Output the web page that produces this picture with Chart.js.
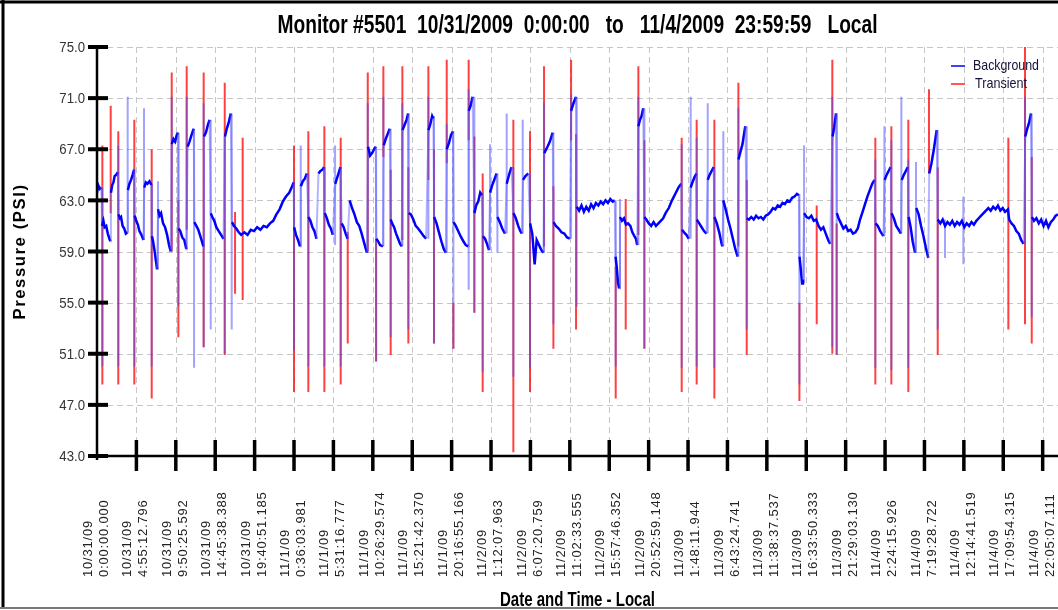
<!DOCTYPE html>
<html>
<head>
<meta charset="utf-8">
<title>Monitor #5501</title>
<script src="https://cdn.jsdelivr.net/npm/chart.js@4/dist/chart.umd.min.js"></script>
<style>
  html, body { margin: 0; padding: 0; background: #fff; }
  canvas { display: block; }
</style>
</head>
<body>
<canvas id="myChart" width="1058" height="610"></canvas>
<script>
// Data (x = hours since 10/31/2009 0:00:00, y = PSI)
let titleText = 'Monitor #5501  10/31/2009  0:00:00   to   11/4/2009  23:59:59   Local';

let yTicks = [43, 47, 51, 55, 59, 63, 67, 71, 75];

let tickHours = [0, 4.920, 9.840, 14.761, 19.681, 24.601, 29.521, 34.442, 39.362, 44.282,
  49.202, 54.122, 59.043, 63.963, 68.883, 73.803, 78.724, 83.644, 88.564, 93.484,
  98.404, 103.325, 108.245, 113.165, 118.085];
let tickDates = ['10/31/09','10/31/09','10/31/09','10/31/09','10/31/09',
  '11/1/09','11/1/09','11/1/09','11/1/09','11/1/09',
  '11/2/09','11/2/09','11/2/09','11/2/09','11/2/09',
  '11/3/09','11/3/09','11/3/09','11/3/09','11/3/09',
  '11/4/09','11/4/09','11/4/09','11/4/09','11/4/09'];
let tickTimes = ['0:00:00.000','4:55:12.796','9:50:25.592','14:45:38.388','19:40:51.185',
  '0:36:03.981','5:31:16.777','10:26:29.574','15:21:42.370','20:16:55.166',
  '1:12:07.963','6:07:20.759','11:02:33.555','15:57:46.352','20:52:59.148',
  '1:48:11.944','6:43:24.741','11:38:37.537','16:33:50.333','21:29:03.130',
  '2:24:15.926','7:19:28.722','12:14:41.519','17:09:54.315','22:05:07.111'];

// background trace
let bgHours = [
  0.00,0.15,0.35,0.55,0.62,0.80,0.95,1.15,1.35,1.55,1.68,1.74,1.90,2.05,2.20,2.40,2.60,2.68,2.85,3.00,
  3.20,3.40,3.60,3.80,3.86,4.05,4.25,4.45,4.62,4.70,4.90,5.10,5.30,5.55,5.80,5.90,6.10,6.30,6.55,6.80,
  6.86,7.00,7.20,7.35,7.50,7.62,7.80,8.00,8.25,8.50,8.75,9.00,9.20,9.33,9.55,9.75,9.95,10.12,10.18,10.40,
  10.65,10.90,11.15,11.32,11.55,11.75,11.95,12.08,12.15,12.40,12.65,12.90,13.10,13.28,13.36,13.60,13.85,14.05,14.20,14.40,
  14.65,14.90,15.20,15.50,15.80,15.98,16.20,16.45,16.70,16.85,17.10,17.40,17.70,18.00,18.40,18.80,19.20,19.60,20.00,20.40,
  20.80,21.20,21.60,22.00,22.40,22.80,23.20,23.60,24.00,24.30,24.55,24.62,24.85,25.10,25.35,25.45,25.70,25.95,26.20,26.40,
  26.65,26.90,27.15,27.40,27.65,27.90,28.15,28.35,28.45,28.70,28.95,29.20,29.45,29.75,30.00,30.20,30.40,30.55,30.80,31.05,
  31.30,31.55,31.85,32.15,32.45,32.75,33.05,33.35,33.70,33.85,34.10,34.35,34.60,34.80,34.88,35.10,35.35,35.70,35.80,36.05,
  36.30,36.55,36.67,36.85,37.10,37.35,37.60,37.85,38.05,38.15,38.40,38.65,38.85,38.92,39.20,39.50,39.80,40.10,40.45,40.80,
  41.10,41.38,41.60,41.85,42.00,42.10,42.40,42.70,43.00,43.30,43.55,43.67,43.95,44.20,44.45,44.52,44.80,45.10,45.40,45.75,
  46.05,46.35,46.42,46.65,46.90,47.12,47.35,47.60,47.85,48.05,48.20,48.45,48.70,48.95,49.08,49.35,49.60,49.90,50.00,50.30,
  50.60,50.95,51.16,51.45,51.75,52.00,52.30,52.60,52.85,53.05,53.20,53.50,53.85,54.08,54.35,54.65,54.90,55.20,55.50,55.75,
  55.85,56.25,56.55,56.90,57.00,57.30,57.65,58.00,58.35,58.70,59.05,59.20,59.50,59.80,59.90,60.20,60.50,60.80,61.10,61.40,
  61.70,62.00,62.30,62.60,62.90,63.20,63.50,63.80,64.10,64.40,64.65,64.75,64.90,65.05,65.20,65.30,65.55,65.80,66.05,66.30,
  66.60,66.85,67.10,67.30,67.45,67.60,67.80,68.00,68.20,68.35,68.60,68.90,69.20,69.50,69.80,70.10,70.40,70.70,71.00,71.40,
  71.80,72.20,72.60,72.95,73.05,73.30,73.60,73.90,74.13,74.35,74.60,74.85,74.90,75.20,75.50,75.80,76.10,76.26,76.50,76.75,
  77.00,77.10,77.40,77.70,78.00,78.10,78.21,78.50,78.80,79.10,79.40,79.70,80.00,80.10,80.35,80.60,80.95,81.13,81.40,81.70,
  82.00,82.30,82.60,82.90,83.20,83.50,83.80,84.10,84.40,84.70,85.00,85.30,85.60,85.90,86.20,86.50,86.80,87.10,87.40,87.65,
  87.72,87.90,88.05,88.15,88.30,88.60,88.90,89.20,89.50,89.80,90.10,90.40,90.70,91.00,91.30,91.55,91.85,92.05,92.28,92.38,
  92.60,92.90,93.20,93.50,93.80,94.10,94.40,94.70,95.00,95.28,95.60,95.90,96.20,96.50,96.80,97.10,97.22,97.50,97.80,98.20,
  98.35,98.60,98.85,99.10,99.22,99.50,99.80,100.10,100.38,100.48,100.75,101.00,101.25,101.35,101.60,101.85,102.15,102.30,102.60,102.90,
  103.20,103.50,103.80,103.92,104.20,104.50,104.85,104.98,105.30,105.60,105.90,106.20,106.50,106.80,107.10,107.40,107.70,108.00,108.30,108.60,
  108.90,109.20,109.50,109.80,110.10,110.40,110.70,111.00,111.30,111.60,111.90,112.20,112.50,112.80,113.10,113.40,113.75,113.90,114.20,114.50,
  114.80,115.10,115.40,115.70,115.92,116.15,116.40,116.62,116.75,117.00,117.30,117.60,117.90,118.20,118.50,118.80,119.10,119.40,119.70,120.00
];
let bgPsi = [
  63.6,64.2,63.9,64.0,61.0,61.4,60.9,61.0,60.4,60.0,59.8,63.6,64.2,64.4,64.9,65.0,65.2,61.9,61.6,61.7,
  61.0,60.8,60.4,60.5,63.8,64.3,64.6,65.0,65.4,61.8,61.4,61.1,60.6,60.3,59.9,64.0,64.4,64.3,64.5,64.2,
  60.2,59.8,59.0,58.3,57.6,62.3,61.8,62.0,61.2,60.9,60.3,59.5,59.0,67.4,67.8,67.6,68.1,68.3,60.8,60.6,
  60.1,59.9,59.2,67.2,67.6,68.0,68.4,68.6,61.3,61.0,60.7,60.2,59.8,59.4,68.0,68.3,68.9,69.3,62.0,61.7,
  61.4,60.9,60.6,60.3,60.0,68.0,68.6,69.1,69.8,61.3,61.0,60.8,60.5,60.3,60.5,60.3,60.7,60.6,60.9,60.7,
  61.0,60.9,61.2,61.4,61.9,62.3,62.9,63.3,63.6,64.0,64.4,60.9,60.3,59.9,59.4,64.1,64.5,64.7,65.1,61.7,
  61.4,60.9,60.6,60.0,65.1,65.3,65.4,65.6,62.0,61.6,61.1,60.8,60.3,64.3,64.8,65.2,65.6,61.2,60.9,60.4,
  60.0,63.0,62.4,61.9,61.3,61.0,60.4,59.7,58.9,67.2,66.5,66.7,67.0,67.2,60.0,59.8,59.5,59.4,67.3,67.8,
  68.2,68.6,61.5,61.2,60.9,60.4,60.0,59.6,59.4,68.5,68.9,69.3,69.8,62.0,61.9,61.5,61.0,60.8,60.5,60.2,
  60.0,68.5,68.9,69.6,69.4,61.7,61.2,60.5,59.8,59.2,58.9,67.0,67.5,68.1,68.4,61.3,61.0,60.6,60.2,59.8,
  59.5,59.4,70.0,70.4,71.1,62.0,62.6,62.9,63.6,63.4,60.2,60.0,59.6,59.1,63.6,64.2,64.6,65.1,61.7,61.3,
  60.8,60.4,64.3,65.0,65.6,62.0,61.6,61.0,60.6,60.4,64.6,64.9,65.1,61.2,60.4,58.0,59.9,59.5,59.1,58.9,
  66.7,67.2,67.6,68.3,61.3,61.0,60.8,60.5,60.4,60.1,60.0,70.0,70.6,71.1,62.5,62.2,62.6,62.1,62.5,62.2,
  62.7,62.4,62.8,62.6,62.9,62.7,63.0,62.8,63.1,62.9,63.0,58.6,57.8,56.6,56.1,61.7,61.4,61.6,61.1,61.2,
  61.0,60.5,60.2,60.0,59.5,68.8,69.3,69.6,70.2,61.7,61.5,61.2,61.0,61.3,61.0,61.2,61.4,61.6,62.0,62.4,
  63.0,63.5,64.0,64.3,60.7,60.5,60.3,60.0,64.0,64.4,64.8,65.1,61.5,61.2,60.9,60.6,60.4,64.6,65.0,65.3,
  65.6,61.7,61.2,60.5,59.6,59.4,63.0,62.3,61.5,60.8,60.0,59.2,58.6,66.2,66.8,67.4,68.8,61.6,61.5,61.7,
  61.5,61.8,61.6,61.7,61.5,61.8,61.9,62.1,62.4,62.3,62.6,62.5,62.8,62.7,63.0,62.9,63.2,63.3,63.5,63.4,
  58.6,57.5,56.5,56.8,62.0,61.7,61.6,61.8,61.4,61.5,61.0,60.7,60.9,60.4,59.9,59.6,68.0,68.7,69.8,62.0,
  61.6,61.2,60.8,61.0,60.6,60.7,60.4,60.5,60.8,61.5,62.1,62.7,63.3,63.8,64.3,64.6,61.2,61.0,60.6,60.2,
  64.6,65.0,65.3,65.6,62.0,61.6,61.0,60.7,60.4,64.6,65.0,65.3,65.6,61.7,60.9,59.8,58.9,62.4,61.9,61.0,
  60.2,59.3,58.5,65.1,65.9,67.0,68.5,61.5,61.2,61.5,61.0,61.3,61.1,61.4,61.0,61.3,61.1,61.4,60.9,61.2,
  61.0,61.3,61.1,61.4,61.6,61.8,62.0,62.2,62.4,62.2,62.5,62.3,62.6,62.2,62.4,62.1,62.3,61.5,61.2,61.0,
  60.6,60.4,59.9,59.6,68.0,68.6,69.1,69.8,61.7,61.4,61.6,61.2,61.5,61.0,61.4,60.9,61.3,61.5,61.8,61.9
];

// background spikes (vertical blue strokes)
let bgSpikeHours = [0.67,2.66,3.83,4.66,5.87,6.83,7.62,9.33,10.16,11.20,12.12,13.32,14.20,15.95,16.82,
  24.60,25.44,26.39,28.39,29.73,30.43,33.81,34.85,35.76,36.67,38.13,38.88,41.38,42.08,43.67,44.50,
  46.41,47.12,48.16,49.08,50.00,51.16,51.99,53.16,54.07,55.82,56.99,59.20,59.90,64.77,65.31,67.60,
  68.35,73.01,74.13,74.88,76.26,77.09,78.21,80.09,81.13,87.71,88.29,91.82,92.36,97.19,98.32,99.19,
  100.44,101.31,102.27,104.98,105.89,108.18,115.88,116.72];
let bgSpikeLow = [50.0,50.0,60.5,50.0,59.9,50.0,57.6,59.0,54.7,59.1,49.9,51.5,52.9,51.0,52.9,
  51.3,59.4,50.0,50.0,59.5,50.0,58.9,50.4,59.4,52.3,59.4,52.9,60.0,51.8,58.9,51.4,
  56.0,54.2,49.6,59.1,58.9,60.4,49.2,60.4,49.9,58.9,53.3,60.0,54.7,50.0,56.1,59.5,
  51.4,49.9,60.0,50.0,60.4,49.9,59.4,58.6,52.9,48.6,56.5,51.5,50.9,49.9,60.2,49.7,
  60.4,49.9,58.9,52.9,58.5,58.0,59.6,53.9];
let bgSpikeHigh = [64.0,67.3,71.1,65.5,70.2,64.3,64.5,71.1,68.3,71.1,68.6,70.6,69.3,68.0,69.8,
  64.4,67.3,65.1,65.6,67.3,65.6,70.6,67.2,71.1,68.6,70.6,69.8,71.1,69.6,69.0,68.4,
  71.7,71.1,63.6,67.4,65.1,69.8,65.6,69.3,65.1,70.6,68.3,71.3,71.1,63.0,63.1,71.1,
  70.2,67.4,71.1,67.9,70.6,65.6,68.4,70.2,68.8,63.5,67.3,71.1,69.8,66.2,68.8,67.7,
  71.1,66.2,66.0,68.5,61.5,63.3,71.1,69.8];

// transients (vertical red strokes)
let trHours = [0.67,1.71,2.66,4.66,6.83,9.33,10.16,11.20,13.32,15.95,17.24,18.19,24.60,26.39,28.39,
  30.43,31.31,33.81,34.85,35.76,36.67,38.13,38.88,41.38,42.08,43.67,44.50,46.41,47.12,48.16,51.99,
  54.07,55.82,56.99,59.20,59.82,64.77,66.02,67.60,68.35,73.01,74.88,77.09,80.09,81.13,87.71,89.87,
  91.82,92.36,97.19,99.19,101.31,103.89,104.98,113.80,115.88,116.72];
let trLow = [48.6,62.0,48.6,48.6,47.5,59.0,52.3,60.7,51.5,50.9,55.7,55.2,48.0,48.0,48.0,
  48.6,51.8,59.0,50.4,66.4,50.9,59.9,51.8,64.6,51.8,65.9,51.4,67.7,54.2,48.0,43.3,
  48.0,59.4,51.4,67.7,52.9,47.5,52.9,60.3,51.4,48.0,48.6,47.5,59.4,50.9,47.3,53.3,
  51.0,50.9,48.6,48.6,48.0,65.1,50.9,52.9,53.3,51.8];
let trHigh = [67.3,70.4,68.4,69.3,67.0,73.0,63.0,73.5,73.0,72.2,62.1,67.9,67.3,68.4,68.8,
  67.9,60.5,73.0,60.0,73.5,65.4,73.5,65.6,73.5,67.0,74.0,55.0,74.0,68.0,65.1,69.3,
  68.4,73.5,64.1,74.0,68.2,57.8,63.1,73.5,67.7,67.9,69.3,69.3,72.2,64.6,55.0,62.6,
  74.0,61.2,67.9,68.8,69.3,71.7,65.6,67.9,75.0,66.4];

//Build
let fam = "'Liberation Sans', Arial, sans-serif";

function strokes(hours, low, high) {
  let out = [];
  hours.forEach((h, i) => {
    out.push({x: h, y: low[i]}, {x: h, y: high[i]}, {x: h, y: null});
  });
  return out;
}

function fitText(ctx, text, x, y, width, align) {
  let w = ctx.measureText(text).width;
  let k = width / w;
  ctx.save();
  ctx.translate(x, y);
  ctx.scale(k, 1);
  ctx.textAlign = align || 'center';
  ctx.fillText(text, 0, 0);
  ctx.restore();
}

function seg(ctx, x1, y1, x2, y2) {
  ctx.beginPath();
  ctx.moveTo(x1, y1);
  ctx.lineTo(x2, y2);
  ctx.stroke();
}

let decor = {
  id: 'decor',
  beforeDatasetsDraw(chart) {
    let {ctx, chartArea: a, scales: {x, y}} = chart;
    ctx.save();
    ctx.strokeStyle = '#c6c6c6';
    ctx.lineWidth = 1;
    ctx.setLineDash([6, 4]);
    yTicks.forEach((v, i) => {
      if (i === 0) return;
      let py = Math.round(y.getPixelForValue(v)) + 0.5;
      seg(ctx, a.left, py, a.right, py);
    });
    tickHours.forEach((v, i) => {
      if (i === 0) return;
      let px = Math.round(x.getPixelForValue(v)) + 0.5;
      seg(ctx, px, a.top, px, a.bottom);
    });
    ctx.restore();
  },
  afterDatasetsDraw(chart) {
    let {ctx, chartArea: a, scales: {x, y}} = chart;
    let mid = (a.left + a.right) / 2;
    ctx.save();
    ctx.setLineDash([]);
    ctx.strokeStyle = '#000';

    // axes
    ctx.lineWidth = 2.5;
    seg(ctx, a.left, a.top, a.left, a.bottom + 4);
    seg(ctx, a.left - 9, a.bottom, a.right, a.bottom);

    // tick marks
    ctx.lineWidth = 4;
    yTicks.forEach(v => {
      let py = y.getPixelForValue(v);
      seg(ctx, a.left - 9, py, a.left + 11, py);
    });
    ctx.lineWidth = 3.5;
    tickHours.forEach((v, i) => {
      if (i === 0) return;
      let px = x.getPixelForValue(v);
      seg(ctx, px, a.bottom - 16, px, a.bottom + 15);
    });

    // y tick labels
    ctx.fillStyle = '#333';
    ctx.font = '15px ' + fam;
    ctx.textBaseline = 'middle';
    yTicks.forEach(v => {
      let py = y.getPixelForValue(v);
      let t = v.toFixed(1);
      fitText(ctx, t, a.left - 12, py + 1, ctx.measureText(t).width * 0.88, 'right');
    });

    // x tick labels, two lines, reading upward
    ctx.fillStyle = '#222';
    ctx.font = '13px ' + fam;
    ctx.letterSpacing = '0.8px';
    ctx.textAlign = 'left';
    ctx.textBaseline = 'middle';
    tickHours.forEach((v, i) => {
      let px = x.getPixelForValue(v);
      [[tickDates[i], -8.5], [tickTimes[i], 7.5]].forEach(([t, dx]) => {
        ctx.save();
        ctx.translate(px + dx, 577);
        ctx.rotate(-Math.PI / 2);
        ctx.fillText(t, 0, 0);
        ctx.restore();
      });
    });
    ctx.letterSpacing = '0px';

    // titles
    ctx.fillStyle = '#000';
    ctx.textBaseline = 'alphabetic';
    ctx.font = 'bold 26px ' + fam;
    fitText(ctx, titleText, mid, 33, 600);
    ctx.font = 'bold 21px ' + fam;
    fitText(ctx, 'Date and Time - Local', mid, 606, 155);
    ctx.save();
    ctx.translate(25, (a.top + a.bottom) / 2);
    ctx.rotate(-Math.PI / 2);
    ctx.font = 'bold 16px ' + fam;
    ctx.letterSpacing = '1.5px';
    fitText(ctx, 'Pressure (PSI)', 0, 0, 136);
    ctx.restore();

    // legend
    ctx.lineWidth = 1.5;
    ctx.strokeStyle = '#0000ff';
    seg(ctx, 951, 66, 965, 66);
    ctx.strokeStyle = '#ff2020';
    seg(ctx, 951, 84, 965, 84);
    ctx.fillStyle = '#14143a';
    ctx.font = '15px ' + fam;
    ctx.textBaseline = 'middle';
    fitText(ctx, 'Background', 973, 66, 66, 'left');
    fitText(ctx, 'Transient', 975, 84, 52, 'left');

    // frame
    ctx.strokeStyle = '#000';
    ctx.lineWidth = 3;
    seg(ctx, 0, 2, 1058, 2);
    seg(ctx, 3, 0, 3, 607);
    ctx.strokeStyle = '#777';
    ctx.lineWidth = 2;
    seg(ctx, 0, 608, 1058, 608);
    ctx.restore();
  }
};

var ctx = document.getElementById('myChart').getContext('2d');
var myChart = new Chart(ctx, {
  type: 'line',
  data: {
    datasets: [{
      label: 'Background',
      data: bgHours.map((h, i) => ({x: h, y: bgPsi[i]})),
      borderColor: '#0000ff',
      borderWidth: 2.5,
      pointRadius: 0,
      order: 0,
      // big jumps between samples are drawn faint, like the original plot
      segment: {
        borderColor: c => Math.abs(c.p1.parsed.y - c.p0.parsed.y) > 2.5 ? 'rgba(90,90,255,0.45)' : '#0000ff',
        borderWidth: c => Math.abs(c.p1.parsed.y - c.p0.parsed.y) > 2.5 ? 2 : 2.5
      }
    }, {
      label: 'Background spikes',
      data: strokes(bgSpikeHours, bgSpikeLow, bgSpikeHigh),
      borderColor: 'rgba(70,70,255,0.5)',
      borderWidth: 2,
      pointRadius: 0,
      spanGaps: false,
      order: 1
    }, {
      label: 'Transient',
      data: strokes(trHours, trLow, trHigh),
      borderColor: 'rgba(255,0,0,0.75)',
      borderWidth: 2,
      pointRadius: 0,
      spanGaps: false,
      order: 2
    }]
  },
  options: {
    responsive: false,
    animation: false,
    layout: {padding: {top: 47, left: 0, right: 0, bottom: 0}},
    plugins: {legend: {display: false}, tooltip: {enabled: false}},
    scales: {
      x: {
        type: 'linear', min: 0, max: 120,
        ticks: {display: false}, grid: {display: false}, border: {display: false},
        afterFit(s) { s.height = 154; }
      },
      y: {
        min: 43, max: 75,
        ticks: {display: false}, grid: {display: false}, border: {display: false},
        afterFit(s) { s.width = 97; }
      }
    }
  },
  plugins: [decor]
});
</script>
</body>
</html>
